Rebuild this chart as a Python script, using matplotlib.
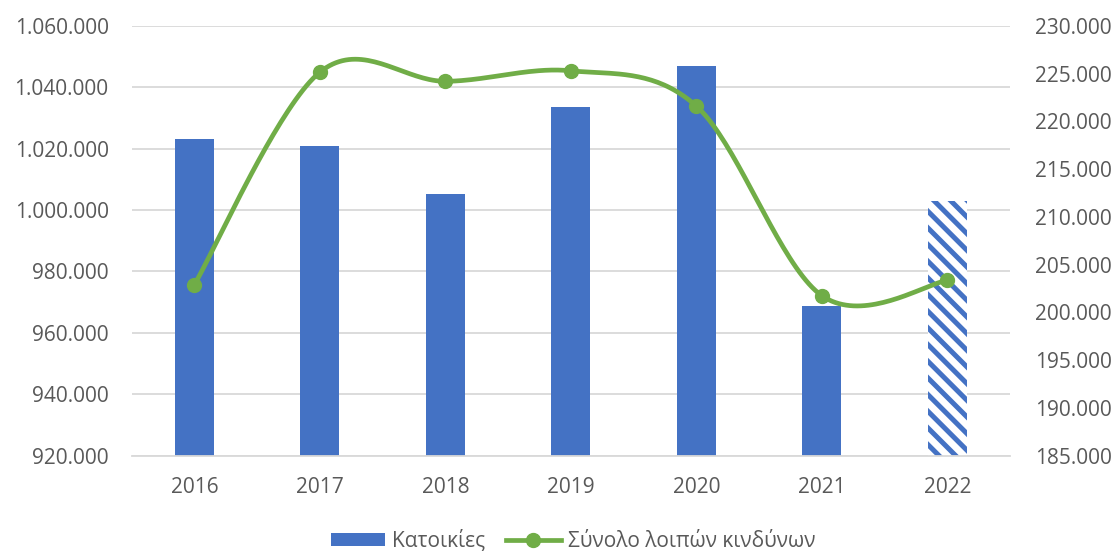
import numpy as np
import matplotlib
matplotlib.use("Agg")
import matplotlib.pyplot as plt
from matplotlib.ticker import FuncFormatter
from matplotlib.patches import Patch
from matplotlib.lines import Line2D

years = ['2016', '2017', '2018', '2019', '2020', '2021', '2022']
katoikies = [1023200, 1020800, 1005100, 1033500, 1046900, 968800, 1002900]
loipoi = [202900, 225150, 224200, 225300, 221600, 201750, 203350]
estimated = [False, False, False, False, False, False, True]

blue = '#4472c4'
green = '#70ad47'
txt = '#595959'
grid = '#d9d9d9'

plt.rcParams['font.family'] = ['Open Sans', 'DejaVu Sans']
plt.rcParams['font.size'] = 15
plt.rcParams['hatch.linewidth'] = 3.6


def dots(v, pos):
    return f'{int(round(v)):,}'.replace(',', '.')


def smooth(xs, ys, n=40):
    # bezier smoothing through the points, like a spreadsheet "smoothed line"
    xs = np.asarray(xs, float)
    ys = np.asarray(ys, float)
    px = np.concatenate([[xs[0]], xs, [xs[-1]]])
    py = np.concatenate([[ys[0]], ys, [ys[-1]]])
    outx, outy = [], []
    t = np.linspace(0, 1, n)
    for i in range(len(xs) - 1):
        p0 = np.array([px[i + 1], py[i + 1]])
        p3 = np.array([px[i + 2], py[i + 2]])
        c1 = p0 + (np.array([px[i + 2], py[i + 2]]) - np.array([px[i], py[i]])) / 6
        c2 = p3 - (np.array([px[i + 3], py[i + 3]]) - np.array([px[i + 1], py[i + 1]])) / 6
        b = (((1 - t) ** 3)[:, None] * p0 + (3 * (1 - t) ** 2 * t)[:, None] * c1
             + (3 * (1 - t) * t ** 2)[:, None] * c2 + (t ** 3)[:, None] * p3)
        outx.extend(b[:, 0])
        outy.extend(b[:, 1])
    return outx, outy


fig = plt.figure(figsize=(11.15, 5.51), dpi=100)
ax = fig.add_axes([0.118, 0.173, 0.788, 0.780])
x = np.arange(len(years))

for i in range(len(years)):
    if estimated[i]:
        ax.bar(x[i], katoikies[i], 0.31, color='white', edgecolor=blue,
               hatch='\\\\', linewidth=0, zorder=2)
    else:
        ax.bar(x[i], katoikies[i], 0.31, color=blue, linewidth=0, zorder=2)

ax.set_xlim(-0.5, len(years) - 0.5)
ax.set_ylim(920000, 1060000)
ax.set_yticks(np.arange(920000, 1060001, 20000))
ax.yaxis.set_major_formatter(FuncFormatter(dots))
ax.set_xticks(x)
ax.set_xticklabels(years)
ax.grid(axis='y', color=grid, linewidth=1.3)
ax.set_axisbelow(True)
for s in ['left', 'right', 'top']:
    ax.spines[s].set_visible(False)
ax.spines['bottom'].set_color(grid)
ax.spines['bottom'].set_linewidth(1.3)
ax.tick_params(axis='y', length=0, pad=16.5, colors=txt)
ax.tick_params(axis='x', length=0, pad=15, colors=txt)

ax2 = ax.twinx()
sx, sy = smooth(x, loipoi)
ax2.plot(sx, sy, color=green, linewidth=3.4, solid_capstyle='round', zorder=3)
ax2.plot(x, loipoi, 'o', color=green, markersize=10, zorder=4)
ax2.set_ylim(185000, 230000)
ax2.set_yticks(np.arange(185000, 230001, 5000))
ax2.yaxis.set_major_formatter(FuncFormatter(dots))
for s in ['left', 'right', 'top', 'bottom']:
    ax2.spines[s].set_visible(False)
ax2.tick_params(axis='y', length=0, pad=18, colors=txt)

handles = [Patch(facecolor=blue, edgecolor='none'),
           Line2D([], [], color=green, linewidth=3.4, marker='o', markersize=10)]
fig.legend(handles, ['Κατοικίες', 'Σύνολο λοιπών κινδύνων'], loc='center',
           bbox_to_anchor=(0.514, 0.018), ncol=2, frameon=False,
           handlelength=2.6, handleheight=0.6, handletextpad=0.35,
           columnspacing=1.0, labelcolor=txt)

fig.savefig('out.png', dpi=100)
